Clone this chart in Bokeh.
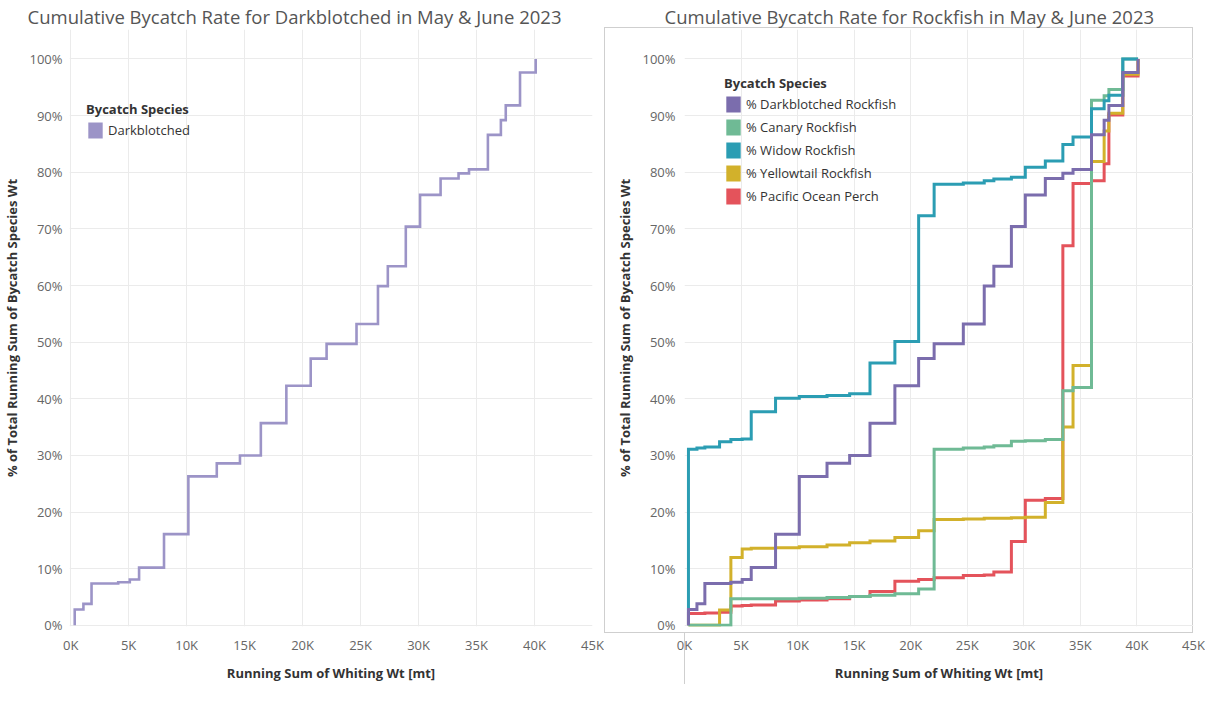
import numpy as np
from bokeh.plotting import figure
from bokeh.layouts import row
from bokeh.models import FixedTicker, Legend, LegendItem, Range1d
from bokeh.embed import file_html
from bokeh.resources import INLINE

# ---------------- data ----------------
whiting_running_sum = [350, 1100, 1800, 3100, 4100, 5100, 5900, 8050, 10150, 12600, 14600,
                       16400, 18600, 20700, 22070, 24650, 26500, 27350, 28900, 30130, 31900,
                       33450, 34350, 35980, 37100, 37520, 38750, 40100]
pct_darkblotched = [2.8, 3.8, 7.4, 7.4, 7.6, 8.1, 10.2, 16.1, 26.3, 28.6, 30.0,
                    35.7, 42.3, 47.1, 49.7, 53.2, 59.9, 63.4, 70.4, 76.0, 78.9,
                    79.8, 80.5, 86.6, 89.2, 91.8, 97.6, 100.0]
pct_canary = [0.0, 0.0, 0.0, 0.0, 4.7, 4.7, 4.7, 4.7, 4.8, 4.9, 5.1,
              5.3, 5.6, 6.4, 31.1, 31.3, 31.5, 31.7, 32.5, 32.6, 32.8,
              41.4, 42.0, 92.7, 93.5, 94.6, 100.0, 100.0]
pct_widow = [31.1, 31.3, 31.5, 32.4, 32.8, 32.9, 37.7, 40.1, 40.4, 40.6, 40.9,
             46.3, 50.1, 72.3, 77.9, 78.1, 78.5, 78.8, 79.1, 80.9, 82.0,
             84.9, 86.2, 91.2, 92.6, 93.6, 100.0, 100.0]
pct_yellowtail = [0.0, 0.0, 0.0, 2.7, 12.0, 13.5, 13.6, 13.7, 13.9, 14.2, 14.6,
                  14.9, 15.5, 16.7, 18.7, 18.8, 18.9, 18.9, 19.0, 19.1, 21.7,
                  35.0, 45.9, 81.9, 87.3, 90.4, 97.3, 100.0]
pct_pop = [2.1, 2.1, 2.2, 2.3, 3.4, 3.5, 3.6, 4.3, 4.5, 4.7, 5.1,
           6.0, 7.8, 8.1, 8.4, 8.8, 8.9, 9.4, 14.8, 22.1, 22.4,
           67.0, 78.0, 78.5, 81.5, 90.1, 97.0, 100.0]

x_ticks = [0, 5000, 10000, 15000, 20000, 25000, 30000, 35000, 40000, 45000]
x_tick_labels = ["0K", "5K", "10K", "15K", "20K", "25K", "30K", "35K", "40K", "45K"]
y_ticks = [0, 10, 20, 30, 40, 50, 60, 70, 80, 90, 100]
y_tick_labels = ["0%", "10%", "20%", "30%", "40%", "50%", "60%", "70%", "80%", "90%", "100%"]

left_title = "Cumulative Bycatch Rate for Darkblotched in May & June 2023"
right_title = "Cumulative Bycatch Rate for Rockfish in May & June 2023"
x_title = "Running Sum of Whiting Wt [mt]"
y_title = "% of Total Running Sum of Bycatch Species Wt"
legend_title = "Bycatch Species"

right_names = ["% Darkblotched Rockfish", "% Canary Rockfish", "% Widow Rockfish",
               "% Yellowtail Rockfish", "% Pacific Ocean Perch"]
right_series = [pct_darkblotched, pct_canary, pct_widow, pct_yellowtail, pct_pop]
right_colors = ["#7B6DAD", "#6FBA95", "#2B9DB3", "#D2B12B", "#E4535B"]
left_color = "#9C94C7"
draw_order = [4, 3, 1, 2, 0]

FONT = "Open Sans"
H = 684
BORDER_TOP = 27
BORDER_BOTTOM = 52
FRAME_BOTTOM = H - BORDER_BOTTOM


def make_fig(width, min_left, min_right, x_start, x_end, title, title_offset):
    p = figure(width=width, height=H, output_backend="svg", toolbar_location=None,
               x_range=Range1d(x_start, x_end), y_range=Range1d(-0.2, 105.2),
               min_border_left=min_left, min_border_right=min_right,
               min_border_top=BORDER_TOP, min_border_bottom=BORDER_BOTTOM)
    p.outline_line_color = None
    p.title.text = title
    p.title.text_font = FONT
    p.title.text_font_size = "18.5px"
    p.title.text_font_style = "normal"
    p.title.text_color = "#555555"
    p.title.align = "left"
    p.title.offset = title_offset
    p.title.standoff = 2
    xa, ya = p.xaxis[0], p.yaxis[0]
    xa.ticker = FixedTicker(ticks=x_ticks)
    xa.major_label_overrides = dict(zip(x_ticks, x_tick_labels))
    ya.ticker = FixedTicker(ticks=y_ticks)
    ya.major_label_overrides = dict(zip(y_ticks, y_tick_labels))
    xa.axis_label = x_title
    ya.axis_label = y_title
    for ax in (xa, ya):
        ax.axis_line_color = None
        ax.major_tick_line_color = None
        ax.minor_tick_line_color = None
        ax.major_tick_out = 0
        ax.major_label_text_font = FONT
        ax.major_label_text_font_size = "13px"
        ax.major_label_text_color = "#666666"
        ax.axis_label_text_font = FONT
        ax.axis_label_text_font_size = "13px"
        ax.axis_label_text_font_style = "bold"
        ax.axis_label_text_color = "#333333"
    xa.major_label_standoff = 9
    xa.axis_label_standoff = 7
    ya.major_label_standoff = 7
    ya.axis_label_standoff = 5
    for g in (p.xgrid[0], p.ygrid[0]):
        g.grid_line_color = "#EBEBEB"
        g.grid_line_width = 1
    return p


def add_legend(p, names, colors, loc):
    items = []
    nan = np.array([np.nan])
    for n, c in zip(names, colors):
        r = p.quad(left=nan, right=nan, top=nan, bottom=nan, fill_color=c, line_color=None)
        items.append(LegendItem(label=n, renderers=[r]))
    lg = Legend(items=items, location=loc, title=legend_title,
                title_text_font=FONT, title_text_font_size="13px", title_text_font_style="bold",
                title_text_color="#333333", title_standoff=2,
                label_text_font=FONT, label_text_font_size="13px", label_text_color="#333333",
                glyph_width=18, glyph_height=20, label_height=20, label_standoff=4,
                spacing=3, padding=0, margin=0, border_line_color=None,
                background_fill_alpha=0)
    p.add_layout(lg)


def step_xy(vals):
    return [whiting_running_sum[0]] + whiting_running_sum, [0.0] + vals


# ---------------- left chart ----------------
LW, RW = 604, 601
pl = make_fig(LW, 69, 12, -100, 45000, left_title, -42)
xs, ys = step_xy(pct_darkblotched)
pl.step(xs, ys, mode="after", line_color=left_color, line_width=2.6, line_join="miter")
add_legend(pl, ["Darkblotched"], [left_color], (17, 486))

# ---------------- right chart ----------------
R_LEFT, R_RIGHT = 80, 12
pr = make_fig(RW, R_LEFT, R_RIGHT, 0, 45000, right_title, -20)
pr.yaxis[0].major_label_standoff = 9
for i in draw_order:
    xs, ys = step_xy(right_series[i])
    pr.step(xs, ys, mode="after", line_color=right_colors[i], line_width=3, line_join="miter")
add_legend(pr, right_names, right_colors, (40, 420))

# sheet frame of the right worksheet (drawn as CSS background lines behind the canvas)
pr.border_fill_color = None
pr.background_fill_color = None
fr = RW - R_RIGHT
fh = FRAME_BOTTOM - BORDER_TOP
line = "linear-gradient(#CFCFCF, #CFCFCF)"
pr.styles = {
    "background-image": ", ".join([line] * 5),
    "background-size": f"{fr}px 1px, 1px {fh}px, {fr}px 1px, 1px {fh}px, 1px {BORDER_BOTTOM}px",
    "background-position": (f"0px {BORDER_TOP}px, 0px {BORDER_TOP}px, 0px {FRAME_BOTTOM}px, "
                            f"{fr - 1}px {BORDER_TOP}px, {R_LEFT}px {FRAME_BOTTOM}px"),
    "background-repeat": "no-repeat",
}

layout = row(pl, pr)
open("out.html", "w").write(file_html(layout, INLINE))
